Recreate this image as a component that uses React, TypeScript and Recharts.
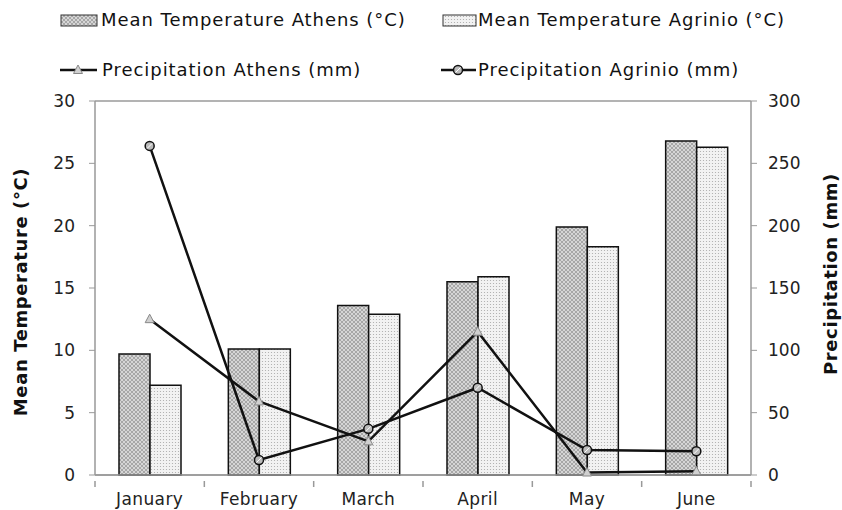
import React from 'react';
import { ComposedChart, Bar, Line, XAxis, YAxis, CartesianGrid, Label } from 'recharts';

const months = ['January', 'February', 'March', 'April', 'May', 'June'];
const tempAthens = [9.7, 10.1, 13.6, 15.5, 19.9, 26.8];
const tempAgrinio = [7.2, 10.1, 12.9, 15.9, 18.3, 26.3];
const rainAthens = [125, 59, 27, 115, 2, 3];
const rainAgrinio = [264, 12, 37, 70, 20, 19];
const tempTicks = [0, 5, 10, 15, 20, 25, 30];
const rainTicks = [0, 50, 100, 150, 200, 250, 300];

const data = months.map((m, i) => ({
  month: m,
  tAth: tempAthens[i],
  tAgr: tempAgrinio[i],
  pAth: rainAthens[i],
  pAgr: rainAgrinio[i],
}));

const font = '"DejaVu Sans", Verdana, sans-serif';
const W = 842;
const H = 510;
const LEFT = 95;
const RIGHT = 91;
const halfBand = (W - LEFT - RIGHT) / months.length / 2;

const Triangle = (props: any) => {
  const { cx, cy } = props;
  if (cx == null || cy == null) return null;
  return (
    <path
      d={`M${cx},${cy - 5} L${cx + 4.5},${cy + 3.5} L${cx - 4.5},${cy + 3.5} Z`}
      fill="#d0d0d0"
      stroke="#888"
      strokeWidth={1}
    />
  );
};

const Ring = (props: any) => {
  const { cx, cy } = props;
  if (cx == null || cy == null) return null;
  return (
    <g>
      <circle cx={cx} cy={cy} r={4.5} fill="#bbb" stroke="#111" strokeWidth={1.5} />
      <line x1={cx - 2.5} y1={cy + 2.5} x2={cx + 2.5} y2={cy - 2.5} stroke="#fff" strokeWidth={1} />
    </g>
  );
};

// rotated bold axis title; dy shifts it along the axis
const sideLabel = (text: string, x: number, dy: number) => (props: any) => {
  const vb = props.viewBox || {};
  const cy = vb.y + vb.height / 2 + dy;
  return (
    <text
      x={x}
      y={cy}
      transform={`rotate(-90 ${x} ${cy})`}
      textAnchor="middle"
      dominantBaseline="central"
      fontFamily={font}
      fontSize={18}
      letterSpacing={0.6}
      fontWeight="bold"
      fill="#111"
    >
      {text}
    </text>
  );
};

const MonthTick = (props: any) => {
  const { x, y, payload, index } = props;
  return (
    <g>
      <line x1={x - halfBand} y1={y - 8} x2={x - halfBand} y2={y - 2} stroke="#999" strokeWidth={1.5} />
      {index === months.length - 1 && (
        <line x1={x + halfBand} y1={y - 8} x2={x + halfBand} y2={y - 2} stroke="#999" strokeWidth={1.5} />
      )}
      <text x={x} y={y + 10} textAnchor="middle" dominantBaseline="central" fontFamily={font} fontSize={17} letterSpacing={0.4} fill="#222">
        {payload.value}
      </text>
    </g>
  );
};

function LegendBox() {
  const txt: React.CSSProperties = {
    position: 'absolute',
    fontFamily: font,
    fontSize: 18,
    letterSpacing: 0.95,
    color: '#111',
    whiteSpace: 'nowrap',
    lineHeight: '20px',
  };
  return (
    <>
      <svg width={W} height={90} style={{ position: 'absolute', left: 0, top: 0 }}>
        <defs>
          <pattern id="lgA" width="4" height="4" patternUnits="userSpaceOnUse">
            <rect width="4" height="4" fill="#d6d6d6" />
            <path d="M0,0 L4,4 M4,0 L0,4" stroke="#9a9a9a" strokeWidth="0.8" />
          </pattern>
          <pattern id="lgB" width="3" height="3" patternUnits="userSpaceOnUse">
            <rect width="3" height="3" fill="#f2f2f2" />
            <circle cx="1.5" cy="1.5" r="0.6" fill="#a8a8a8" />
          </pattern>
        </defs>
        <rect x={61} y={15} width={36} height={11} fill="url(#lgA)" stroke="#333" strokeWidth={1} />
        <rect x={443} y={15} width={33} height={11} fill="url(#lgB)" stroke="#333" strokeWidth={1} />
        <line x1={60} y1={70} x2={97} y2={70} stroke="#111" strokeWidth={2.5} />
        <Triangle cx={78} cy={70} />
        <line x1={441} y1={70} x2={476} y2={70} stroke="#111" strokeWidth={2.5} />
        <Ring cx={458} cy={70} />
      </svg>
      <div style={{ ...txt, left: 101, top: 10 }}>Mean Temperature Athens (°C)</div>
      <div style={{ ...txt, left: 478, top: 10 }}>Mean Temperature Agrinio (°C)</div>
      <div style={{ ...txt, left: 102, top: 60 }}>Precipitation Athens (mm)</div>
      <div style={{ ...txt, left: 478, top: 60 }}>Precipitation Agrinio (mm)</div>
    </>
  );
}

export default function App() {
  const tick = { fontFamily: font, fontSize: 17, fill: '#222' };
  return (
    <div style={{ position: 'absolute', left: 0, top: 0, width: W, height: H, background: '#fff' }}>
      <LegendBox />
      <ComposedChart
        width={W}
        height={H}
        data={data}
        margin={{ top: 101, right: 0, left: 0, bottom: 0 }}
        barGap={0}
      >
        <defs>
          <pattern id="patA" width="4" height="4" patternUnits="userSpaceOnUse">
            <rect width="4" height="4" fill="#d6d6d6" />
            <path d="M0,0 L4,4 M4,0 L0,4" stroke="#9a9a9a" strokeWidth="0.8" />
          </pattern>
          <pattern id="patB" width="3" height="3" patternUnits="userSpaceOnUse">
            <rect width="3" height="3" fill="#f2f2f2" />
            <circle cx="1.5" cy="1.5" r="0.6" fill="#a8a8a8" />
          </pattern>
        </defs>
        <CartesianGrid vertical={false} stroke="#9a9a9a" strokeWidth={1.5} />
        <XAxis
          dataKey="month"
          height={35}
          tick={<MonthTick />}
          tickLine={false}
          axisLine={{ stroke: '#999', strokeWidth: 1.5 }}
          tickMargin={8}
          interval={0}
        />
        <YAxis
          yAxisId="t"
          width={LEFT}
          domain={[0, 30]}
          ticks={tempTicks}
          tick={tick}
          tickMargin={14}
          axisLine={{ stroke: '#999', strokeWidth: 1.5 }}
          tickLine={{ stroke: '#999' }}
        >
          <Label content={sideLabel('Mean Temperature (°C)', 20, 4)} />
        </YAxis>
        <YAxis
          yAxisId="p"
          orientation="right"
          width={RIGHT}
          domain={[0, 300]}
          ticks={rainTicks}
          tick={tick}
          tickMargin={11}
          axisLine={{ stroke: '#999', strokeWidth: 1.5 }}
          tickLine={{ stroke: '#999' }}
        >
          <Label content={sideLabel('Precipitation (mm)', 830, -14)} />
        </YAxis>
        <Bar yAxisId="t" dataKey="tAth" barSize={31} fill="url(#patA)" stroke="#111" strokeWidth={1.5} isAnimationActive={false} />
        <Bar yAxisId="t" dataKey="tAgr" barSize={31} fill="url(#patB)" stroke="#111" strokeWidth={1.5} isAnimationActive={false} />
        <Line yAxisId="p" type="linear" dataKey="pAth" stroke="#111" strokeWidth={2.5} dot={<Triangle />} activeDot={false} isAnimationActive={false} />
        <Line yAxisId="p" type="linear" dataKey="pAgr" stroke="#111" strokeWidth={2.5} dot={<Ring />} activeDot={false} isAnimationActive={false} />
      </ComposedChart>
    </div>
  );
}
